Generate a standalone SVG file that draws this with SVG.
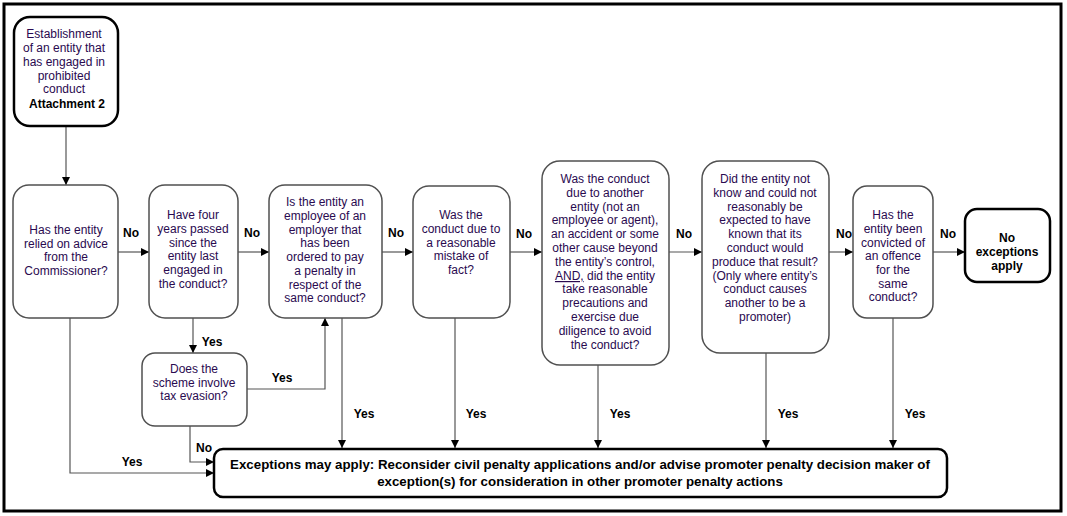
<svg xmlns="http://www.w3.org/2000/svg" width="1067" height="516" viewBox="0 0 1067 516">
<defs>
<marker id="ah" markerWidth="8" markerHeight="8" refX="8" refY="4" orient="auto" markerUnits="userSpaceOnUse">
<path d="M0,0 L8,4 L0,8 Z" fill="#000"/>
</marker>
<style>
.nd{fill:#fff;stroke:#505050;stroke-width:1.5}
.nb{fill:#fff;stroke:#000;stroke-width:2.5}
.t{font-family:"Liberation Sans",Arial,sans-serif;font-size:12px;fill:#2a0a50;text-anchor:middle}
.tb{font-family:"Liberation Sans",Arial,sans-serif;font-size:12px;font-weight:bold;fill:#000;text-anchor:middle}
.tl{font-family:"Liberation Sans",Arial,sans-serif;font-size:13.3px;font-weight:bold;fill:#000;text-anchor:middle}
.c{fill:none;stroke:#555;stroke-width:1.2}
.ca{fill:none;stroke:#555;stroke-width:1.2;marker-end:url(#ah)}
</style>
</defs>
<rect x="0" y="0" width="1067" height="516" fill="#fff"/>
<rect x="4" y="4" width="1057" height="507" fill="#fff" stroke="#000" stroke-width="3"/>

<g id="connectors">
<path class="ca" d="M66,126 V185"/>
<path class="ca" d="M118,252 H149"/>
<path class="ca" d="M238,252 H269"/>
<path class="ca" d="M382,252 H413"/>
<path class="ca" d="M510,252 H542"/>
<path class="ca" d="M669,252 H702"/>
<path class="ca" d="M829,252 H853"/>
<path class="ca" d="M933,252 H965"/>
<path class="ca" d="M193,318 V353"/>
<path class="ca" d="M247,389 H325 V318"/>
<path class="ca" d="M342,318 V448"/>
<path class="ca" d="M455,318 V448"/>
<path class="ca" d="M598,365 V448"/>
<path class="ca" d="M766,353 V448"/>
<path class="ca" d="M893,318 V448"/>
<path class="ca" d="M190,426 V462 H214"/>
<path class="ca" d="M70,318 V473 H214"/>
<g class="tb">
<text x="131" y="237">No</text>
<text x="252" y="237">No</text>
<text x="396" y="237">No</text>
<text x="524" y="238">No</text>
<text x="684" y="238">No</text>
<text x="844" y="238">No</text>
<text x="948" y="238">No</text>
<text x="212" y="346">Yes</text>
<text x="282" y="382">Yes</text>
<text x="364" y="418">Yes</text>
<text x="476" y="418">Yes</text>
<text x="620" y="418">Yes</text>
<text x="788" y="418">Yes</text>
<text x="915" y="418">Yes</text>
<text x="204" y="452">No</text>
<text x="132" y="466">Yes</text>
</g>
</g>

<g id="start">
<rect class="nb" x="14" y="17" width="104" height="109" rx="16"/>
<text class="t" x="64" y="38">Establishment</text>
<text class="t" x="64" y="52">of an entity that</text>
<text class="t" x="64" y="66">has engaged in</text>
<text class="t" x="64" y="80">prohibited</text>
<text class="t" x="64" y="93">conduct</text>
<text class="tb" x="67" y="108">Attachment 2</text>
</g>

<g id="q1">
<rect class="nd" x="13" y="185" width="105" height="133" rx="16"/>
<text class="t" x="66" y="234">Has the entity</text>
<text class="t" x="66" y="248">relied on advice</text>
<text class="t" x="66" y="261">from the</text>
<text class="t" x="66" y="275">Commissioner?</text>
</g>

<g id="q2">
<rect class="nd" x="149" y="185" width="89" height="133" rx="16"/>
<text class="t" x="193" y="219">Have four</text>
<text class="t" x="193" y="233">years passed</text>
<text class="t" x="193" y="247">since the</text>
<text class="t" x="193" y="260">entity last</text>
<text class="t" x="193" y="274">engaged in</text>
<text class="t" x="193" y="288">the conduct?</text>
</g>

<g id="q3">
<rect class="nd" x="269" y="185" width="113" height="133" rx="16"/>
<text class="t" x="325" y="206">Is the entity an</text>
<text class="t" x="325" y="220">employee of an</text>
<text class="t" x="325" y="234">employer that</text>
<text class="t" x="325" y="247">has been</text>
<text class="t" x="325" y="261">ordered to pay</text>
<text class="t" x="325" y="275">a penalty in</text>
<text class="t" x="325" y="289">respect of the</text>
<text class="t" x="325" y="302">same conduct?</text>
</g>

<g id="q4">
<rect class="nd" x="413" y="186" width="97" height="132" rx="16"/>
<text class="t" x="461" y="219">Was the</text>
<text class="t" x="461" y="233">conduct due to</text>
<text class="t" x="461" y="247">a reasonable</text>
<text class="t" x="461" y="260">mistake of</text>
<text class="t" x="461" y="274">fact?</text>
</g>

<g id="q5">
<rect class="nd" x="542" y="161" width="127" height="204" rx="18"/>
<text class="t" x="605" y="183">Was the conduct</text>
<text class="t" x="605" y="197">due to another</text>
<text class="t" x="605" y="211">entity (not an</text>
<text class="t" x="605" y="224">employee or agent),</text>
<text class="t" x="605" y="238">an accident or some</text>
<text class="t" x="605" y="252">other cause beyond</text>
<text class="t" x="605" y="266">the entity’s control,</text>
<text class="t" x="605" y="280"><tspan text-decoration="underline">AND,</tspan> did the entity</text>
<text class="t" x="605" y="293">take reasonable</text>
<text class="t" x="605" y="307">precautions and</text>
<text class="t" x="605" y="321">exercise due</text>
<text class="t" x="605" y="335">diligence to avoid</text>
<text class="t" x="605" y="349">the conduct?</text>
</g>

<g id="q6">
<rect class="nd" x="702" y="161" width="127" height="192" rx="18"/>
<text class="t" x="765" y="183">Did the entity not</text>
<text class="t" x="765" y="197">know and could not</text>
<text class="t" x="765" y="211">reasonably be</text>
<text class="t" x="765" y="224">expected to have</text>
<text class="t" x="765" y="238">known that its</text>
<text class="t" x="765" y="252">conduct would</text>
<text class="t" x="765" y="266">produce that result?</text>
<text class="t" x="765" y="280">(Only where entity’s</text>
<text class="t" x="765" y="293">conduct causes</text>
<text class="t" x="765" y="307">another to be a</text>
<text class="t" x="765" y="321">promoter)</text>
</g>

<g id="q7">
<rect class="nd" x="853" y="186" width="80" height="132" rx="14"/>
<text class="t" x="893" y="219">Has the</text>
<text class="t" x="893" y="233">entity been</text>
<text class="t" x="893" y="247">convicted of</text>
<text class="t" x="893" y="260">an offence</text>
<text class="t" x="893" y="274">for the</text>
<text class="t" x="893" y="288">same</text>
<text class="t" x="893" y="301">conduct?</text>
</g>

<g id="noexc">
<rect class="nb" x="965" y="209" width="85" height="73" rx="12"/>
<text class="tb" x="1007" y="242">No</text>
<text class="tb" x="1007" y="256">exceptions</text>
<text class="tb" x="1007" y="270">apply</text>
</g>

<g id="q2b">
<rect class="nd" x="142" y="353" width="105" height="73" rx="13"/>
<text class="t" x="194" y="373">Does the</text>
<text class="t" x="194" y="387">scheme involve</text>
<text class="t" x="194" y="400">tax evasion?</text>
</g>

<g id="exc">
<rect class="nb" x="214" y="449" width="733" height="48" rx="9"/>
<text class="tl" x="580" y="469">Exceptions may apply: Reconsider civil penalty applications and/or advise promoter penalty decision maker of</text>
<text class="tl" x="580" y="486">exception(s) for consideration in other promoter penalty actions</text>
</g>
</svg>
